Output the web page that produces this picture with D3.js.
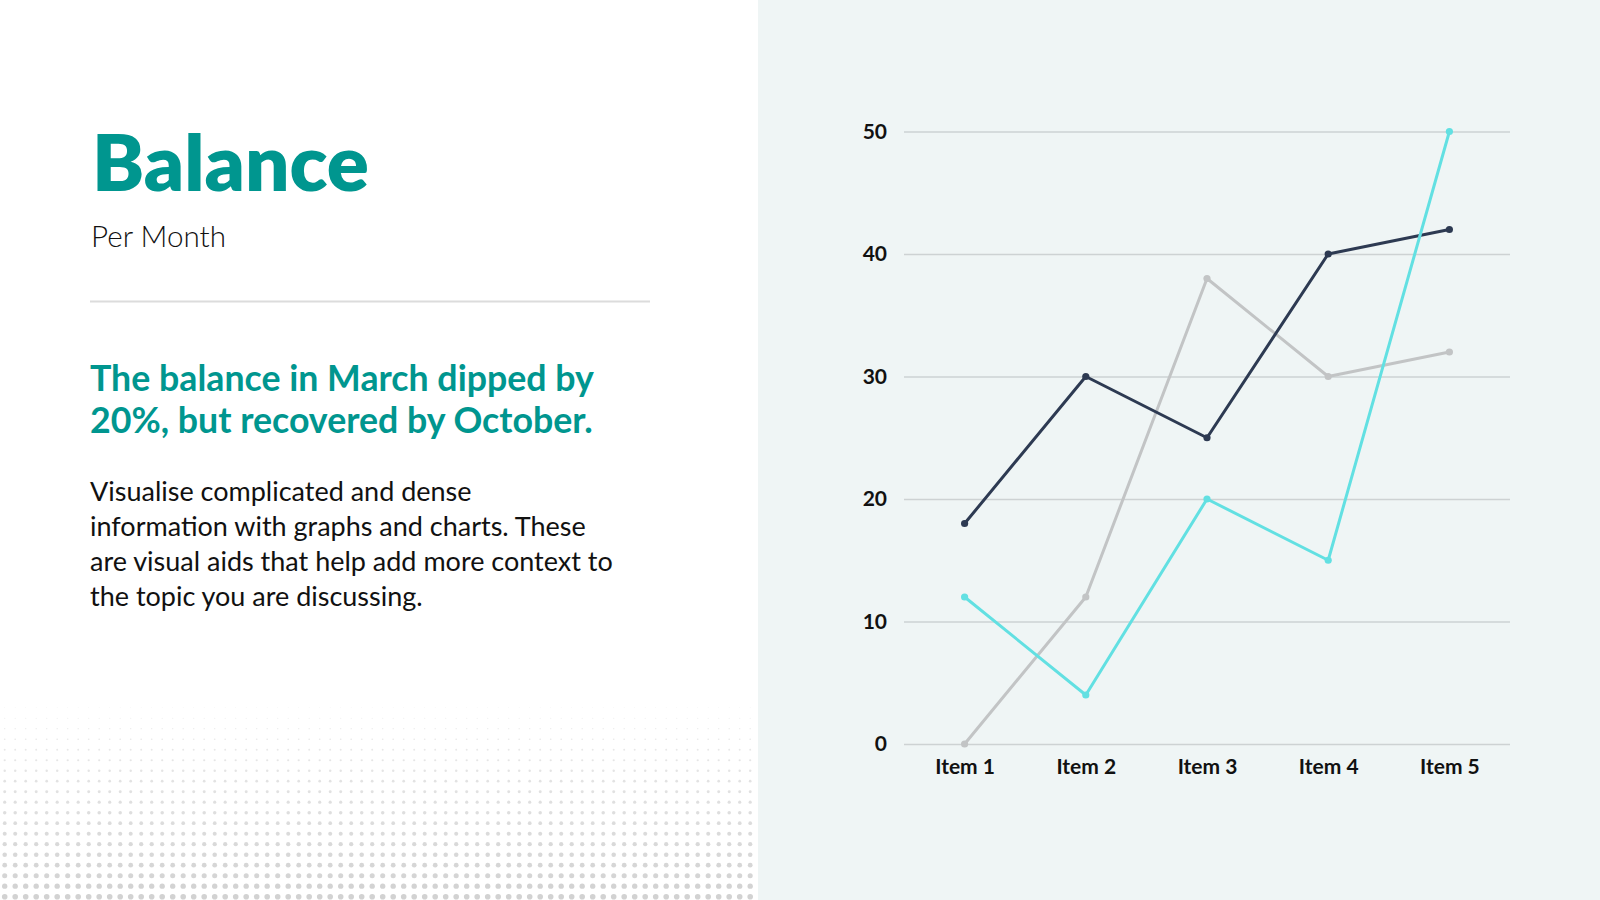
<!DOCTYPE html>
<html>
<head>
<meta charset="utf-8">
<script src="https://cdn.jsdelivr.net/npm/d3@7"></script>
<style>
  body { margin: 0; background: #fff; }
  svg { display: block; }
</style>
</head>
<body>
<svg id="slide" width="1600" height="900"></svg>
<script>
// ---- data ----
var categories = ["Item 1", "Item 2", "Item 3", "Item 4", "Item 5"];
var seriesGray = [0, 12, 38, 30, 32];
var seriesDark = [18, 30, 25, 40, 42];
var seriesCyan = [12, 4, 20, 15, 50];
var yTicks = [0, 10, 20, 30, 40, 50];

var titleText = "Balance";
var subtitleText = "Per Month";
var headlineLines = ["The balance in March dipped by", "20%, but recovered by October."];
var bodyLines = [
    "Visualise complicated and dense",
    "information with graphs and charts. These",
    "are visual aids that help add more context to",
    "the topic you are discussing."
];

var TEAL = "#00968f";
var series = [
    { values: seriesGray, color: "#c2c4c5" },
    { values: seriesDark, color: "#2d3a52" },
    { values: seriesCyan, color: "#62e0e2" }
];

var svg = d3.select("#slide");

// scale font so a line of text matches the width seen in the slide
var fitWidth = function(sel, target) {
    var w = sel.node().getComputedTextLength();
    var fs = parseFloat(sel.attr("font-size"));
    return fs * target / w;
};

/***************************
 * Left panel
 ***************************/
svg.append("rect").attr("width", 758).attr("height", 900).attr("fill", "#ffffff");

// halftone dots at the bottom
var dots = svg.append("g");
var rows = 19, cols = 72;
for (var r = 0; r < rows; r++) {
    var t = r / (rows - 1);
    for (var c = 0; c < cols; c++) {
        dots.append("circle")
            .attr("cx", 4.7 + c * 10.5)
            .attr("cy", 707.7 + r * 10.5)
            .attr("r", 0.4 + 2.4 * t)
            .attr("fill", "#d2d2d2")
            .attr("opacity", 0.4 + 0.6 * t);
    }
}

var title = svg.append("text")
    .attr("x", 92).attr("y", 191)
    .attr("font-family", "Lato").attr("font-weight", 800)
    .attr("font-size", 78).attr("fill", TEAL)
    .text(titleText);
title.attr("font-size", fitWidth(title, 277));

var sub = svg.append("text")
    .attr("x", 91).attr("y", 247)
    .attr("font-family", "Lato").attr("font-weight", 300)
    .attr("font-size", 29).attr("fill", "#111")
    .text(subtitleText);
sub.attr("font-size", fitWidth(sub, 135));

svg.append("line")
    .attr("x1", 90).attr("x2", 650).attr("y1", 301.5).attr("y2", 301.5)
    .attr("stroke", "#dcdcdc").attr("stroke-width", 2);

var head = svg.append("g").attr("font-family", "Lato").attr("font-weight", 700).attr("fill", TEAL);
var headSel = head.selectAll("text").data(headlineLines).join("text")
    .attr("x", 90).attr("y", function(d, i) { return 391 + i * 41.5; })
    .attr("font-size", 33)
    .text(function(d) { return d; });
var headFs = fitWidth(d3.select(headSel.nodes()[0]), 504);
headSel.attr("font-size", headFs);

var body = svg.append("g").attr("font-family", "Lato").attr("font-weight", 400).attr("fill", "#111");
var bodySel = body.selectAll("text").data(bodyLines).join("text")
    .attr("x", 90).attr("y", function(d, i) { return 501 + i * 35; })
    .attr("font-size", 25)
    .text(function(d) { return d; });
var bodyFs = fitWidth(d3.select(bodySel.nodes()[2]), 523);
bodySel.attr("font-size", bodyFs);

/***************************
 * Right panel: line chart
 ***************************/
svg.append("rect").attr("x", 758).attr("width", 842).attr("height", 900).attr("fill", "#eff5f5");

var plot = { left: 904, right: 1510, top: 131.5, bottom: 744 };

var x = d3.scalePoint().domain(categories).range([plot.left, plot.right]).padding(0.5);
var y = d3.scaleLinear().domain([0, 50]).range([plot.bottom, plot.top]);

var yAxis = svg.append("g")
    .attr("transform", "translate(" + plot.left + ",0)")
    .call(d3.axisLeft(y).tickValues(yTicks).tickSize(-(plot.right - plot.left)).tickPadding(17));
yAxis.select(".domain").remove();
yAxis.selectAll(".tick line").attr("stroke", "#cdd2d3").attr("stroke-width", 1.5);
yAxis.selectAll(".tick text")
    .attr("font-family", "Lato").attr("font-weight", 700)
    .attr("font-size", 21).attr("fill", "#111");

var xAxis = svg.append("g")
    .attr("transform", "translate(0," + plot.bottom + ")")
    .call(d3.axisBottom(x).tickSize(0).tickPadding(15));
xAxis.select(".domain").remove();
xAxis.selectAll(".tick text")
    .attr("font-family", "Lato").attr("font-weight", 700)
    .attr("font-size", 21).attr("fill", "#111");

var line = d3.line()
    .x(function(d, i) { return x(categories[i]); })
    .y(function(d) { return y(d); });

series.forEach(function(s) {
    var g = svg.append("g");
    g.append("path")
        .attr("d", line(s.values))
        .attr("fill", "none")
        .attr("stroke", s.color)
        .attr("stroke-width", 3)
        .attr("stroke-linejoin", "round");
    g.selectAll("circle").data(s.values).join("circle")
        .attr("cx", function(d, i) { return x(categories[i]); })
        .attr("cy", function(d) { return y(d); })
        .attr("r", 3.6)
        .attr("fill", s.color);
});
</script>
</body>
</html>
